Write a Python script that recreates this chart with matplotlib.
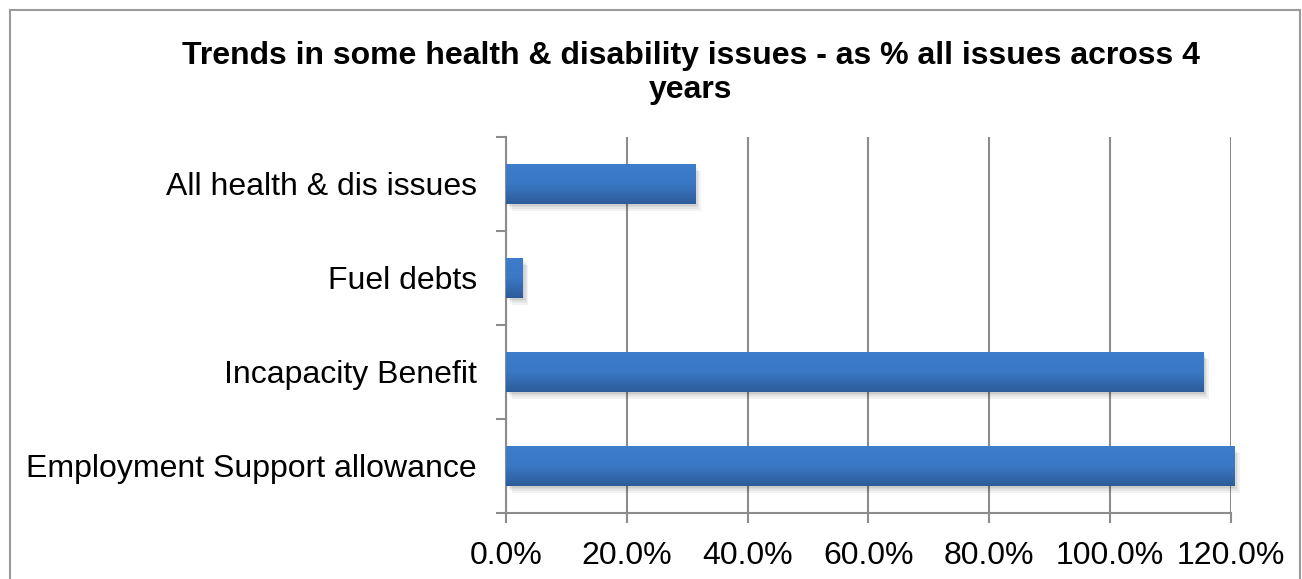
import matplotlib.pyplot as plt
import matplotlib.patheffects as pe
import numpy as np
from matplotlib.colors import LinearSegmentedColormap
from matplotlib.patches import Rectangle
from matplotlib.ticker import FuncFormatter, MultipleLocator

plt.rcParams["font.family"] = ["Liberation Sans", "DejaVu Sans"]

# share of all issues, bottom to top
categories = [
    "Employment Support allowance",
    "Incapacity Benefit",
    "Fuel debts",
    "All health & dis issues",
]
values = [120.5, 115.4, 2.8, 31.3]

title = "Trends in some health & disability issues - as % all issues across 4\nyears"

fig = plt.figure(figsize=(13.02, 5.79), dpi=100)
ax = fig.add_axes([0.3886, 0.114, 0.5569, 0.6494])

# outer chart frame
fig.patches.append(Rectangle((10 / 1302, -0.05), 1290 / 1302, 1.05 - 10 / 579,
                             transform=fig.transFigure, fill=False,
                             edgecolor="#9a9a9a", linewidth=1.5))

# soft drop shadow built from a few faint offset copies
shadow = [pe.SimplePatchShadow(offset=(k, -k * 1.3), shadow_rgbFace="#000000", alpha=0.05)
          for k in (1, 2, 3, 4)]

y = np.arange(len(categories))
bars = ax.barh(y, values, height=0.42, color="#3670b8", clip_on=False, zorder=3,
               path_effects=shadow + [pe.Normal()])

# vertical gradient fill on each bar
grad = LinearSegmentedColormap.from_list("bar", ["#2d5c9a", "#3a78c4", "#3d7dcb"])
g = np.linspace(0, 1, 64).reshape(-1, 1)
for b in bars:
    x0, y0 = b.get_x(), b.get_y()
    im = ax.imshow(g, cmap=grad, aspect="auto", origin="lower", interpolation="bicubic",
                   extent=(x0, x0 + b.get_width(), y0, y0 + b.get_height()), zorder=4)
    im.set_clip_path(b)
    im.set_clip_on(True)

ax.set_xlim(0, 120)
ax.set_ylim(-0.5, len(categories) - 0.5)

ax.xaxis.set_major_locator(MultipleLocator(20))
ax.xaxis.set_major_formatter(FuncFormatter(lambda v, p: f"{v:.1f}%"))
ax.grid(axis="x", color="#8c8c8c", linewidth=1.5, zorder=1)
ax.set_axisbelow(True)

ax.set_yticks(y)
ax.set_yticklabels(categories)
ax.set_yticks(np.arange(len(categories) + 1) - 0.5, minor=True)
ax.tick_params(axis="y", which="major", length=0, pad=21, labelsize=23)
ax.tick_params(axis="y", which="minor", length=7, width=1.5, color="#8c8c8c")
ax.tick_params(axis="x", length=7, width=1.5, color="#8c8c8c", labelsize=23, pad=13.5)

for s in ["top", "right"]:
    ax.spines[s].set_visible(False)
for s in ["left", "bottom"]:
    ax.spines[s].set_color("#8c8c8c")
    ax.spines[s].set_linewidth(1.5)

fig.text(691 / 1302, 1 - 73 / 579, title, ha="center", va="center",
         fontsize=23, fontweight="bold", linespacing=1.2)

fig.savefig("out.png", dpi=100)
